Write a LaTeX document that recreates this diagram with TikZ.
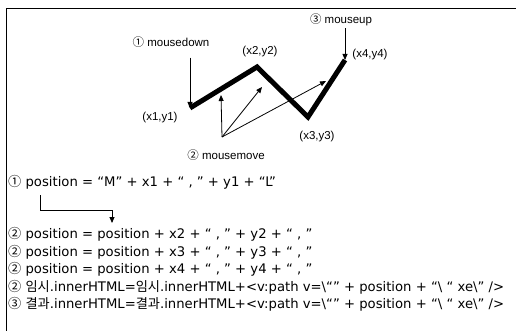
\documentclass[tikz,border=0pt]{standalone}
\usepackage{fontspec}
\setmainfont{Liberation Sans}
\newfontfamily\krfont{Noto Sans CJK KR}
\newfontfamily\codefont{DejaVu Sans}
\usetikzlibrary{arrows.meta, positioning, calc}

\begin{document}
\begin{tikzpicture}[x=1pt, y=-1pt, >={Triangle[length=6pt,width=5pt]},
  lbl/.style={font=\fontsize{11.5}{13}\selectfont, inner sep=0pt},
  codeline/.style={font=\codefont\fontsize{13.2}{15}\selectfont, anchor=base west, inner sep=0pt},
  ptr/.style={->, line width=0.8pt},
  stroke/.style={line width=5pt, line join=miter}]
  \useasboundingbox (0,0) rectangle (516,331);
  % Frame
  \draw[line width=1pt] (516,9) -- (6,9) -- (6,331);
  % Drawn path
  \coordinate (p1) at (190,108);
  \coordinate (p2) at (257,67);
  \coordinate (p3) at (308,117);
  \coordinate (p4) at (345,60);
  \draw[stroke] (p1) -- (p2) -- (p3) -- (p4);
  % Point labels
  \node[lbl] (xy1) at (160,118) {(x1,y1)};
  \node[lbl] (xy2) at (260,52) {(x2,y2)};
  \node[lbl] (xy3) at (317,137) {(x3,y3)};
  \node[lbl] (xy4) at (370,55) {(x4,y4)};
  % Events
  \node[lbl] (down) at (171,42) {{\krfont ①} mousedown};
  \node[lbl] (up) at (341,20) {{\krfont ③} mouseup};
  \node[lbl] (move) at (226,155) {{\krfont ②} mousemove};
  \draw[ptr] ([yshift=-10pt]down.south -| p1) -- (p1);
  \draw[ptr] ([yshift=-2pt]up.south -| p4) -- (p4);
  \coordinate (mv) at (222,137);
  \coordinate (m1) at (221,95);
  \coordinate (m2) at (262,87);
  \coordinate (m3) at (326,81);
  \foreach \t in {m1,m2,m3}
    \draw[ptr] (mv) -- (\t);
  % Code lines
  \node[codeline] (pos1) at (8,186) {{\krfont ①} position = “M” + x1 + “ , ” + y1 + “L”};
  \foreach \i [count=\k] in {2,3,4}
    \node[codeline] (pos\i) at (8,{238.5+(\k-1)*17.5}) {{\krfont ②} position = position + x\i{} + “ , ” + y\i{} + “ , ”};
  \node[codeline] (tmp) at (8,291) {{\krfont ②} {\krfont 임시}.innerHTML={\krfont 임시}.innerHTML+<v:path v=\textbackslash“” + position + “\textbackslash{} “ xe\textbackslash” />};
  \node[codeline] (res) at (8,308.5) {{\krfont ③} {\krfont 결과}.innerHTML={\krfont 결과}.innerHTML+<v:path v=\textbackslash“” + position + “\textbackslash{} “ xe\textbackslash” />};
  % Elbow from line 1 to line 2
  \coordinate (e1) at (40,195);
  \coordinate (e2) at (112,223);
  \draw[ptr] (e1) -- ++(0,15) -| (e2);
\end{tikzpicture}
\end{document}
